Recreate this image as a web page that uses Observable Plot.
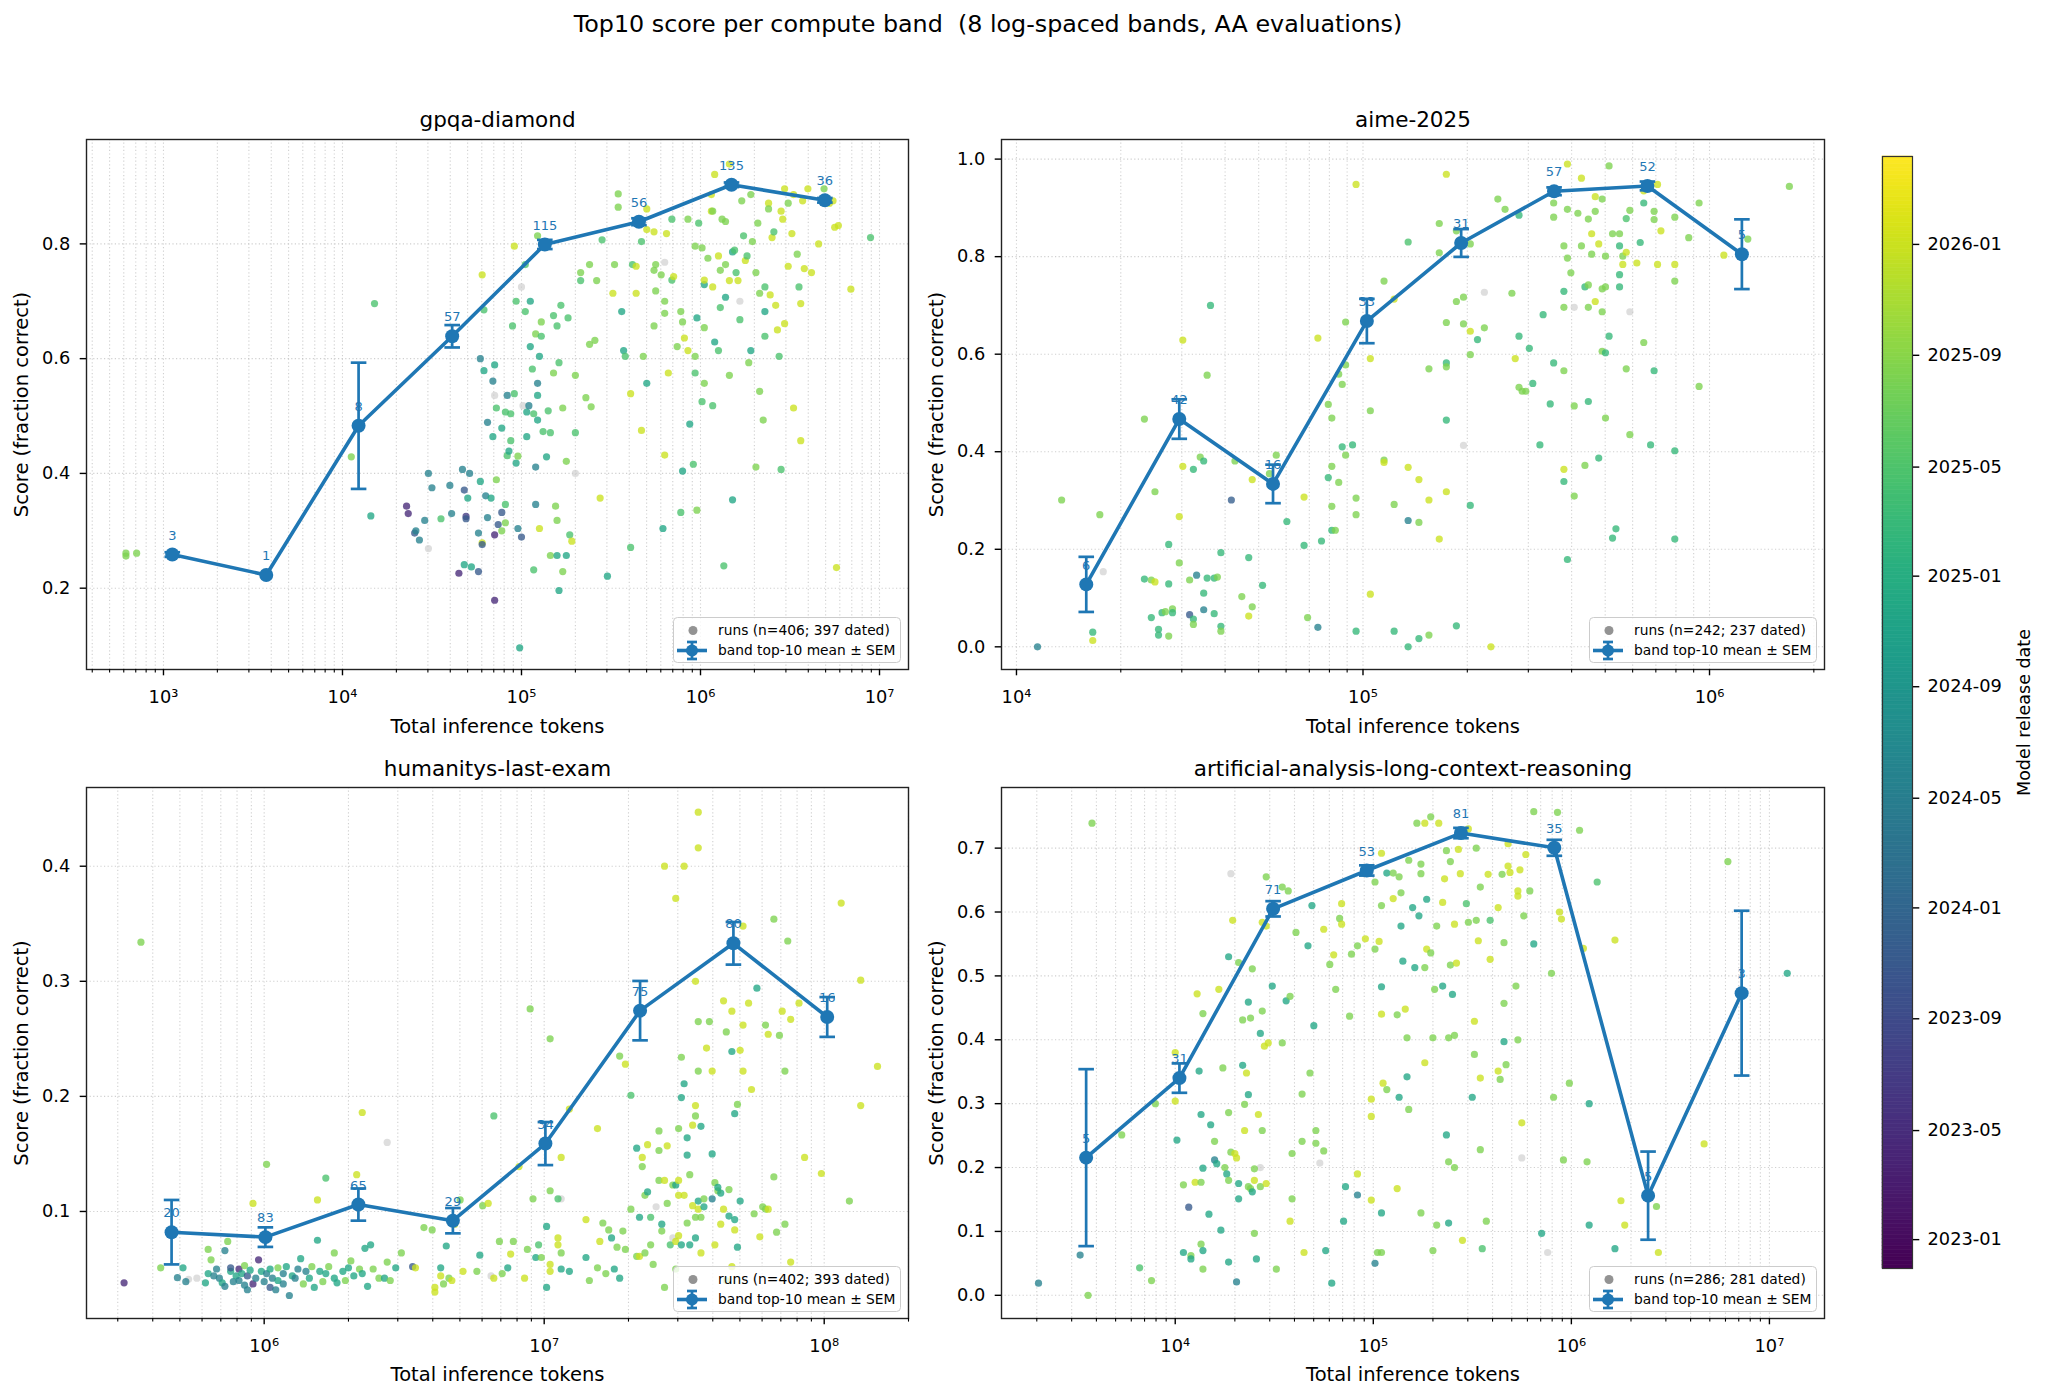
<!DOCTYPE html>
<html><head><meta charset="utf-8">
<script src="https://cdn.jsdelivr.net/npm/d3@7"></script>
<script src="https://cdn.jsdelivr.net/npm/@observablehq/plot@0.6"></script>
<style>
body{margin:0;background:#fff;}
#fig{position:relative;width:2048px;height:1395px;background:#fff;font-family:"DejaVu Sans",sans-serif;overflow:hidden;color:#000}
</style></head><body><div id="fig"></div>
<script>
// ---------- DATA ----------
// runs: [total inference tokens, score, model release date (decimal year) or null if undated]
const gpqaRuns = [
[617,0.261,2025.6],[617,0.256,2025.6],[708,0.261,2025.6],[1.12e4,0.429,2025.6],[1.51e4,0.696,2025.3],[1.44e4,0.326,2024.9],
[2.28e4,0.343,2023.3],[2.33e4,0.33,2023.3],[2.53e4,0.296,2023.85],[2.57e4,0.30,2024.4],[2.69e4,0.284,2024.4],[2.88e4,0.318,2024.4],
[3.02e4,0.40,2024.4],[3.02e4,0.269,null],[3.16e4,0.375,2024.4],[3.55e4,0.321,2025.3],[3.98e4,0.379,2024.4],[4.07e4,0.33,2024.4],
[4.47e4,0.226,2023.3],[4.68e4,0.407,2024.4],[4.79e4,0.371,2023.85],[4.90e4,0.325,2023.5],[4.90e4,0.321,2023.85],[4.79e4,0.241,2024.9],
[5.13e4,0.40,2024.4],[5.01e4,0.357,2024.9],[5.25e4,0.237,2024.9],[5.75e4,0.296,2024.4],[5.75e4,0.229,2023.85],[5.89e4,0.60,2024.4],
[5.89e4,0.386,2024.9],[6.03e4,0.279,2026.0],[6.03e4,0.276,2023.85],[6.03e4,0.746,2026.0],[6.17e4,0.685,2025.3],[6.31e4,0.361,2024.4],
[6.46e4,0.323,2024.4],[6.17e4,0.579,2024.9],[6.46e4,0.489,2024.4],[6.76e4,0.357,2024.9],[6.92e4,0.561,2024.4],[6.92e4,0.464,2024.9],
[7.08e4,0.589,2024.9],[7.08e4,0.293,2023.3],[7.08e4,0.179,2023.3],[7.08e4,0.536,null],[7.24e4,0.389,2025.6],[7.24e4,0.514,2025.3],
[7.41e4,0.311,2023.85],[7.76e4,0.30,2025.6],[7.76e4,0.332,2023.85],[7.76e4,0.479,2024.9],[8.13e4,0.507,2025.3],[8.13e4,0.346,2025.3],
[8.13e4,0.314,2025.6],[8.32e4,0.431,2025.3],[8.32e4,0.536,2024.4],[8.51e4,0.439,2024.9],[8.71e4,0.504,2025.3],[8.71e4,0.457,2025.3],
[8.91e4,0.657,2025.3],[9.12e4,0.539,2025.3],[9.12e4,0.796,2026.0],[9.33e4,0.70,2025.3],[9.33e4,0.418,2024.9],[9.55e4,0.430,2025.6],
[9.55e4,0.304,2024.4],[9.77e4,0.096,2024.9],[1.0e5,0.289,2023.85],[1.0e5,0.725,null],[1.02e5,0.518,null],[1.05e5,0.764,2025.3],
[1.05e5,0.682,2025.3],[1.07e5,0.507,2024.9],[1.07e5,0.464,2024.9],[1.10e5,0.518,2024.4],[1.12e5,0.70,2024.9],[1.12e5,0.621,2024.9],
[1.15e5,0.582,2025.3],[1.17e5,0.504,2025.3],[1.17e5,0.232,2025.3],[1.20e5,0.411,2024.4],[1.20e5,0.643,2025.6],[1.20e5,0.346,2024.4],
[1.23e5,0.557,2024.4],[1.23e5,0.536,2024.9],[1.23e5,0.493,2024.9],[1.26e5,0.604,2024.9],[1.26e5,0.304,2026.0],[1.29e5,0.639,2025.3],
[1.29e5,0.664,2025.6],[1.32e5,0.473,2025.3],[1.23e5,0.814,2025.6],[1.38e5,0.429,2024.9],[1.41e5,0.509,2025.3],[1.45e5,0.471,2025.3],
[1.45e5,0.257,2025.6],[1.51e5,0.575,2025.6],[1.51e5,0.675,2025.3],[1.55e5,0.343,2025.6],[1.58e5,0.657,2025.3],[1.58e5,0.318,2025.6],
[1.58e5,0.257,2024.9],[1.62e5,0.196,2024.9],[1.62e5,0.593,2025.3],[1.66e5,0.693,2025.3],[1.70e5,0.514,2025.6],[1.70e5,0.229,2025.6],
[1.78e5,0.421,2025.6],[1.78e5,0.257,2024.9],[1.82e5,0.671,2025.3],[1.86e5,0.293,2025.3],[1.91e5,0.282,2026.0],[2.0e5,0.471,2025.3],
[2.0e5,0.571,2025.6],[2.0e5,0.40,null],[2.14e5,0.75,2025.6],[2.14e5,0.736,2025.3],[2.29e5,0.532,2025.6],[2.45e5,0.516,2025.6],
[2.40e5,0.625,2025.6],[2.57e5,0.632,2025.6],[2.40e5,0.764,2025.6],[2.63e5,0.736,2025.6],[2.75e5,0.357,2026.0],[2.82e5,0.807,2025.3],
[3.02e5,0.221,2024.9],[3.24e5,0.714,2026.0],[3.31e5,0.764,2025.6],[3.47e5,0.887,2025.6],[3.47e5,0.864,2025.6],[3.63e5,0.682,2024.9],
[3.72e5,0.614,2024.9],[3.80e5,0.604,2025.3],[4.07e5,0.539,2026.0],[4.07e5,0.271,2025.3],[4.17e5,0.764,2025.3],[4.37e5,0.761,2026.0],
[4.37e5,0.714,2026.0],[4.68e5,0.475,2026.0],[4.68e5,0.804,2025.3],[4.79e5,0.604,2025.6],[5.01e5,0.557,2024.9],[5.01e5,0.861,2026.0],
[5.01e5,0.825,2026.0],[5.50e5,0.821,2026.0],[5.50e5,0.754,2025.6],[5.50e5,0.657,2025.6],[5.62e5,0.764,2025.6],[5.62e5,0.718,2025.6],
[6.03e5,0.746,2025.6],[6.17e5,0.304,2024.9],[6.31e5,0.768,null],[6.31e5,0.679,2025.6],[6.31e5,0.70,2025.6],[6.46e5,0.818,2026.0],
[6.31e5,0.432,2026.0],[6.61e5,0.575,2026.0],[6.92e5,0.843,2025.3],[6.92e5,0.737,2025.3],[7.08e5,0.743,2026.0],[7.41e5,0.621,2025.6],
[7.76e5,0.682,2025.6],[7.76e5,0.332,2025.3],[7.94e5,0.664,2025.6],[7.94e5,0.404,2024.9],[8.13e5,0.636,2026.0],[8.51e5,0.843,2025.6],
[8.51e5,0.614,2026.0],[8.71e5,0.486,2024.9],[9.12e5,0.416,2025.3],[9.33e5,0.796,2025.6],[9.33e5,0.604,2025.6],[9.33e5,0.575,2025.3],
[9.55e5,0.671,2024.9],[9.55e5,0.336,2025.6],[9.77e5,0.836,2025.3],[1.02e6,0.793,2025.6],[1.02e6,0.525,2025.3],[1.05e6,0.654,2025.6],
[1.05e6,0.557,2025.6],[1.05e6,0.729,2024.9],[1.05e6,0.737,2026.0],[1.10e6,0.775,2025.6],[1.15e6,0.886,2026.0],[1.15e6,0.857,2026.0],
[1.17e6,0.725,2026.0],[1.17e6,0.518,2025.3],[1.17e6,0.857,2025.6],[1.20e6,0.629,2024.9],[1.20e6,0.921,2026.0],[1.26e6,0.779,2026.0],
[1.26e6,0.614,2025.3],[1.29e6,0.754,2025.6],[1.29e6,0.689,2025.3],[1.32e6,0.843,2025.6],[1.35e6,0.239,2025.3],[1.38e6,0.707,2024.9],
[1.38e6,0.839,2025.6],[1.38e6,0.764,2025.6],[1.45e6,0.736,2026.0],[1.45e6,0.571,2025.6],[1.45e6,0.939,2026.0],[1.51e6,0.786,2024.9],
[1.51e6,0.354,2024.9],[1.55e6,0.789,2025.3],[1.58e6,0.75,2025.3],[1.62e6,0.736,2026.0],[1.66e6,0.668,2025.3],[1.66e6,0.70,null],
[1.70e6,0.875,2025.6],[1.74e6,0.814,2025.3],[1.78e6,0.771,2026.0],[1.82e6,0.779,2025.3],[1.86e6,0.593,2025.6],[1.91e6,0.614,2024.9],
[1.91e6,0.886,2025.6],[1.95e6,0.804,2025.6],[2.04e6,0.75,2025.6],[2.04e6,0.411,2025.6],[2.09e6,0.836,2025.6],[2.14e6,0.543,2025.6],
[2.14e6,0.714,2025.6],[2.24e6,0.493,2025.6],[2.29e6,0.682,2024.9],[2.29e6,0.725,2025.3],[2.29e6,0.639,2025.3],[2.40e6,0.871,2026.0],
[2.40e6,0.861,2025.6],[2.45e6,0.711,2026.0],[2.51e6,0.811,2026.0],[2.57e6,0.821,2025.3],[2.63e6,0.693,2026.0],[2.69e6,0.65,2026.0],
[2.75e6,0.604,2025.3],[2.82e6,0.857,2026.0],[2.82e6,0.407,2025.3],[2.88e6,0.843,2026.0],[2.95e6,0.896,2026.0],[2.95e6,0.661,2026.0],
[3.09e6,0.871,2025.6],[3.09e6,0.761,2026.0],[3.24e6,0.818,2026.0],[3.31e6,0.886,2026.0],[3.31e6,0.514,2026.0],[3.47e6,0.782,2025.6],
[3.55e6,0.725,2025.3],[3.63e6,0.696,2026.0],[3.72e6,0.875,2026.0],[3.63e6,0.457,2026.0],[3.80e6,0.757,2026.0],[3.98e6,0.896,2026.0],
[4.17e6,0.75,2026.0],[4.57e6,0.80,2026.0],[4.90e6,0.896,2025.6],[5.25e6,0.871,2026.0],[5.50e6,0.875,2026.0],[5.62e6,0.829,2026.0],
[5.75e6,0.236,2026.0],[5.89e6,0.832,2026.0],[6.92e6,0.721,2026.0],[8.91e6,0.811,2025.3]
];
const aimeRuns = [
[1.15e4,0.0,2024.4],[1.35e4,0.301,2025.6],[1.66e4,0.030,2025.15],[1.66e4,0.013,2026.0],[1.74e4,0.271,2025.6],[1.78e4,0.154,null],
[2.34e4,0.467,2025.6],[2.34e4,0.139,2025.15],[2.45e4,0.137,2025.6],[2.45e4,0.060,2025.15],[2.51e4,0.318,2025.6],[2.51e4,0.133,2026.0],
[2.57e4,0.036,2025.15],[2.57e4,0.024,2025.15],[2.63e4,0.070,2025.15],[2.69e4,0.072,2025.6],[2.75e4,0.21,2025.15],[2.75e4,0.129,2025.15],
[2.75e4,0.022,2025.6],[2.82e4,0.078,2025.6],[2.82e4,0.07,2025.15],[2.95e4,0.172,2025.6],[2.95e4,0.267,2026.0],[3.02e4,0.629,2026.0],
[3.02e4,0.370,2026.0],[3.16e4,0.137,2025.6],[3.16e4,0.066,2023.85],[3.24e4,0.057,2025.15],[3.24e4,0.046,2025.6],[3.24e4,0.364,2025.15],
[3.31e4,0.147,2024.4],[3.39e4,0.389,2025.6],[3.47e4,0.381,2025.15],[3.47e4,0.110,2025.15],[3.47e4,0.076,2024.4],[3.55e4,0.557,2025.6],
[3.55e4,0.141,2025.15],[3.63e4,0.70,2025.15],[3.72e4,0.141,2025.15],[3.80e4,0.143,2025.6],[3.72e4,0.068,2025.15],[3.89e4,0.193,2025.15],
[3.89e4,0.042,2025.15],[3.89e4,0.032,2025.6],[4.17e4,0.301,2023.9],[4.27e4,0.381,2025.6],[4.47e4,0.103,2025.6],[4.68e4,0.183,2025.15],
[4.68e4,0.063,2026.0],[4.79e4,0.343,2026.0],[4.79e4,0.082,2025.6],[5.13e4,0.126,2025.15],[5.37e4,0.355,2025.6],[5.62e4,0.393,2025.6],
[6.03e4,0.257,2025.15],[6.76e4,0.208,2025.15],[6.76e4,0.307,2026.0],[6.92e4,0.06,2025.6],[7.41e4,0.633,2026.0],[7.59e4,0.217,2025.15],
[7.41e4,0.040,2024.4],[7.94e4,0.497,2025.6],[7.94e4,0.347,2025.15],[8.13e4,0.469,2025.6],[8.13e4,0.370,2025.6],[8.13e4,0.288,2025.6],
[8.13e4,0.239,2025.15],[8.32e4,0.239,2025.6],[8.51e4,0.559,2025.6],[8.51e4,0.337,2025.6],[8.71e4,0.538,2025.6],[8.71e4,0.41,2025.15],
[8.91e4,0.666,2025.6],[8.91e4,0.578,2025.6],[8.91e4,0.393,2025.6],[9.33e4,0.414,2025.15],[9.55e4,0.948,2026.0],[9.55e4,0.305,2025.6],
[9.55e4,0.271,2025.6],[9.55e4,0.032,2025.15],[1.05e5,0.591,2026.0],[1.05e5,0.484,2025.6],[1.05e5,0.108,2026.0],[1.15e5,0.750,2025.6],
[1.15e5,0.383,2025.6],[1.15e5,0.378,2026.0],[1.23e5,0.713,2026.0],[1.23e5,0.292,2025.6],[1.23e5,0.032,2025.15],[1.35e5,0.830,2025.3],
[1.35e5,0.368,2026.0],[1.35e5,0.259,2024.4],[1.35e5,0.0,2025.15],[1.45e5,0.343,2026.0],[1.45e5,0.255,2025.6],[1.45e5,0.017,2025.15],
[1.55e5,0.301,2026.0],[1.55e5,0.570,2025.6],[1.55e5,0.024,2025.6],[1.66e5,0.868,2025.6],[1.66e5,0.808,2025.6],[1.66e5,0.221,2026.0],
[1.74e5,0.969,2026.0],[1.74e5,0.665,2025.6],[1.74e5,0.582,2025.15],[1.74e5,0.574,2025.6],[1.74e5,0.465,2025.15],[1.74e5,0.318,2026.0],
[1.86e5,0.853,2025.6],[1.86e5,0.708,2025.6],[1.86e5,0.043,2025.15],[1.95e5,0.717,2025.6],[1.95e5,0.662,2025.6],[1.95e5,0.413,null],
[2.04e5,0.826,2025.6],[2.04e5,0.647,2026.0],[2.04e5,0.599,2025.6],[2.04e5,0.29,2025.15],[2.14e5,0.630,2025.15],[2.24e5,0.727,null],
[2.24e5,0.654,2025.6],[2.34e5,0.0,2026.0],[2.45e5,0.918,2025.6],[2.57e5,0.897,2025.6],[2.69e5,0.725,2025.6],[2.75e5,0.591,2026.0],
[2.82e5,0.637,2025.15],[2.82e5,0.532,2025.6],[2.82e5,0.885,2025.15],[2.88e5,0.524,2025.6],[2.95e5,0.524,2025.6],[3.02e5,0.612,2025.15],
[3.09e5,0.540,2025.15],[3.24e5,0.414,2025.15],[3.31e5,0.681,2025.15],[3.47e5,0.498,2025.15],[3.55e5,0.582,2025.15],[3.55e5,0.910,2025.6],
[3.55e5,0.881,2025.6],[3.80e5,0.364,2026.0],[3.80e5,0.339,2025.15],[3.80e5,0.566,2025.6],[3.80e5,0.822,2025.6],[3.80e5,0.729,2025.15],
[3.80e5,0.696,2025.6],[3.89e5,0.179,2025.15],[3.89e5,0.797,2025.6],[3.89e5,0.990,2026.0],[3.89e5,0.897,2025.6],[3.98e5,0.767,2025.6],
[4.07e5,0.309,2025.6],[4.07e5,0.494,2025.6],[4.07e5,0.696,null],[4.17e5,0.889,2025.6],[4.27e5,0.961,2026.0],[4.27e5,0.822,2025.6],
[4.37e5,0.372,2025.6],[4.37e5,0.738,2025.15],[4.47e5,0.742,2025.6],[4.47e5,0.696,2025.6],[4.47e5,0.503,2025.15],[4.47e5,0.877,2025.6],
[4.57e5,0.847,2026.0],[4.57e5,0.805,2025.6],[4.68e5,0.923,2026.0],[4.68e5,0.708,2026.0],[4.68e5,0.893,2025.6],[4.79e5,0.826,2026.0],
[4.79e5,0.387,2025.15],[4.90e5,0.918,2025.6],[4.90e5,0.606,2025.6],[4.90e5,0.687,2025.6],[4.90e5,0.734,2025.6],[5.01e5,0.603,2025.15],
[5.01e5,0.738,2025.6],[5.01e5,0.801,2025.6],[5.01e5,0.469,2025.6],[5.13e5,0.986,2025.6],[5.13e5,0.637,2025.15],[5.25e5,0.223,2025.15],
[5.25e5,0.847,2025.6],[5.37e5,0.242,2025.15],[5.50e5,0.822,2025.15],[5.50e5,0.847,2025.6],[5.50e5,0.763,2025.15],[5.50e5,0.738,2025.15],
[5.62e5,0.784,2026.0],[5.62e5,0.801,2025.6],[5.75e5,0.809,2026.0],[5.75e5,0.878,2025.3],[5.75e5,0.570,2025.6],[5.89e5,0.687,null],
[5.89e5,0.895,2025.6],[5.89e5,0.435,2025.6],[6.17e5,0.787,2026.0],[6.31e5,0.829,2025.15],[6.46e5,0.624,2025.6],[6.46e5,0.910,2025.15],
[6.46e5,0.935,2026.0],[6.76e5,0.414,2025.15],[6.92e5,0.876,2025.6],[6.92e5,0.566,2025.15],[6.92e5,0.893,2025.6],[7.08e5,0.784,2026.0],
[7.08e5,0.948,2026.0],[7.24e5,0.853,2026.0],[7.94e5,0.881,2025.6],[7.94e5,0.750,2025.6],[7.94e5,0.784,2026.0],[7.94e5,0.402,2025.15],
[7.94e5,0.221,2025.15],[8.71e5,0.839,2025.6],[9.33e5,0.910,2025.6],[9.33e5,0.534,2025.6],[1.10e6,0.803,2026.0],[1.29e6,0.836,2025.6],
[1.70e6,0.944,2025.6]
];
const hleRuns = [
[3.16e5,0.038,2023.3],[3.63e5,0.334,2025.6],[4.27e5,0.051,2025.6],[4.90e5,0.0425,2024.4],[5.13e5,0.051,2024.9],[5.25e5,0.039,2024.4],
[5.37e5,0.041,null],[5.75e5,0.042,null],[6.17e5,0.038,2024.9],[6.31e5,0.046,2024.9],[6.31e5,0.067,2025.6],[6.46e5,0.058,2025.6],
[6.61e5,0.044,2024.4],[6.76e5,0.05,2024.4],[6.92e5,0.042,2024.4],[7.08e5,0.038,2024.9],[7.24e5,0.035,2024.4],[7.24e5,0.066,2024.4],
[7.41e5,0.074,2025.6],[7.59e5,0.048,2024.9],[7.59e5,0.051,2023.85],[7.76e5,0.039,2024.4],[7.94e5,0.044,2024.9],[8.13e5,0.05,2023.3],
[8.13e5,0.040,2024.4],[8.32e5,0.046,2024.9],[8.51e5,0.036,2024.4],[8.51e5,0.053,2025.6],[8.71e5,0.032,2024.4],[8.71e5,0.044,2023.85],
[8.91e5,0.049,2024.9],[9.12e5,0.107,2026.0],[9.12e5,0.037,2023.3],[9.33e5,0.042,2024.4],[9.55e5,0.058,2023.3],[9.77e5,0.048,2024.9],
[1.0e6,0.039,2024.4],[1.02e6,0.141,2025.6],[1.02e6,0.046,2024.4],[1.05e6,0.034,2023.85],[1.05e6,0.05,2024.9],[1.07e6,0.042,2024.4],
[1.10e6,0.032,2024.4],[1.12e6,0.051,2025.6],[1.12e6,0.04,2024.9],[1.17e6,0.046,2024.4],[1.17e6,0.037,2024.4],[1.20e6,0.052,2024.9],
[1.23e6,0.027,2024.4],[1.26e6,0.044,2024.9],[1.29e6,0.042,2024.4],[1.32e6,0.050,2024.4],[1.35e6,0.059,2024.9],[1.38e6,0.037,2025.6],
[1.41e6,0.048,2024.4],[1.45e6,0.042,2024.9],[1.48e6,0.052,2025.6],[1.51e6,0.034,2024.9],[1.55e6,0.075,2024.9],[1.55e6,0.11,2026.0],
[1.58e6,0.048,2024.9],[1.62e6,0.039,2025.6],[1.66e6,0.129,2025.3],[1.66e6,0.046,2024.9],[1.70e6,0.052,2025.6],[1.78e6,0.042,2024.9],
[1.78e6,0.064,2025.6],[1.82e6,0.038,2024.9],[1.91e6,0.048,2024.9],[1.95e6,0.04,2025.6],[2.0e6,0.051,2024.9],[2.04e6,0.057,2025.6],
[2.09e6,0.044,2024.9],[2.14e6,0.132,2026.0],[2.19e6,0.050,2025.6],[2.24e6,0.186,2026.0],[2.24e6,0.046,2024.9],[2.29e6,0.068,2024.9],
[2.34e6,0.035,2024.9],[2.40e6,0.071,2024.9],[2.45e6,0.050,2025.6],[2.57e6,0.042,2025.6],[2.69e6,0.042,2024.9],[2.75e6,0.056,2025.6],
[2.75e6,0.16,null],[2.82e6,0.040,2025.6],[2.95e6,0.051,2024.9],[3.09e6,0.064,2025.6],[3.39e6,0.052,2023.85],[3.47e6,0.051,2026.0],
[3.72e6,0.086,2025.6],[3.98e6,0.084,2025.6],[4.07e6,0.034,2026.0],[4.07e6,0.030,2026.0],[4.27e6,0.044,2026.0],[4.27e6,0.051,2024.9],
[4.37e6,0.037,2025.6],[4.47e6,0.070,2024.9],[4.57e6,0.042,2025.6],[4.68e6,0.040,2026.0],[4.79e6,0.089,2026.0],[5.01e6,0.110,2025.6],
[5.13e6,0.048,2026.0],[5.75e6,0.048,2025.6],[5.89e6,0.062,2024.9],[6.03e6,0.105,2025.6],[6.31e6,0.107,2026.0],[6.46e6,0.044,null],
[6.61e6,0.183,2025.3],[6.61e6,0.042,2026.0],[6.92e6,0.074,2025.6],[7.08e6,0.046,2025.6],[7.41e6,0.051,2024.9],[7.59e6,0.063,2026.0],
[7.76e6,0.074,2025.6],[8.13e6,0.139,2026.0],[8.51e6,0.042,2026.0],[8.71e6,0.067,2025.6],[8.91e6,0.276,2025.6],[9.12e6,0.111,2025.6],
[9.33e6,0.060,2024.9],[9.55e6,0.071,2025.3],[9.77e6,0.060,2025.6],[1.02e7,0.087,2024.9],[1.02e7,0.034,2024.9],[1.05e7,0.054,2026.0],
[1.05e7,0.048,2026.0],[1.05e7,0.118,2025.6],[1.05e7,0.250,2025.6],[1.12e7,0.111,2025.3],[1.12e7,0.071,2026.0],[1.12e7,0.077,2026.0],
[1.15e7,0.111,null],[1.15e7,0.147,2026.0],[1.15e7,0.050,2024.9],[1.15e7,0.064,2025.6],[1.23e7,0.189,2026.0],[1.23e7,0.048,2024.9],
[1.41e7,0.093,2026.0],[1.41e7,0.060,2024.9],[1.45e7,0.040,2025.6],[1.55e7,0.051,2025.6],[1.55e7,0.172,2026.0],[1.58e7,0.074,2026.0],
[1.62e7,0.090,2025.6],[1.66e7,0.046,2025.6],[1.70e7,0.084,2025.6],[1.74e7,0.077,2024.9],[1.78e7,0.050,2024.9],[1.82e7,0.069,2025.6],
[1.86e7,0.235,2025.6],[1.86e7,0.042,2024.9],[1.91e7,0.083,2025.6],[1.95e7,0.067,2025.6],[1.95e7,0.228,2026.0],[2.04e7,0.201,2025.3],
[2.04e7,0.102,2025.6],[2.14e7,0.155,2024.9],[2.14e7,0.061,2025.6],[2.19e7,0.095,2024.9],[2.19e7,0.061,2026.0],[2.24e7,0.139,2025.6],
[2.24e7,0.147,2026.0],[2.29e7,0.114,2025.6],[2.29e7,0.064,2025.6],[2.34e7,0.158,2026.0],[2.34e7,0.117,2024.9],[2.40e7,0.095,2025.3],
[2.40e7,0.071,2025.6],[2.45e7,0.054,2025.6],[2.51e7,0.104,null],[2.57e7,0.127,2025.6],[2.57e7,0.153,2025.6],[2.57e7,0.170,2025.6],
[2.63e7,0.083,2025.6],[2.63e7,0.089,2024.9],[2.69e7,0.034,2025.6],[2.69e7,0.127,2026.0],[2.75e7,0.107,2025.6],[2.75e7,0.157,2026.0],
[2.82e7,0.071,2025.3],[2.88e7,0.077,null],[2.88e7,0.123,2025.6],[2.95e7,0.123,2024.9],[2.95e7,0.050,2025.6],[2.95e7,0.074,2026.0],
[3.02e7,0.127,2026.0],[3.02e7,0.114,2026.0],[3.02e7,0.079,2026.0],[3.02e7,0.172,2025.6],[3.09e7,0.234,2025.6],[3.09e7,0.199,2024.9],
[3.09e7,0.071,2024.9],[3.16e7,0.114,2026.0],[3.16e7,0.40,2026.0],[2.95e7,0.372,2026.0],[2.69e7,0.40,2026.0],[3.16e7,0.211,2024.9],
[3.24e7,0.090,2025.6],[3.24e7,0.164,2024.9],[3.24e7,0.149,2024.9],[3.31e7,0.132,2025.6],[3.31e7,0.071,2024.9],[3.39e7,0.175,2026.0],
[3.39e7,0.105,2026.0],[3.47e7,0.192,2026.0],[3.47e7,0.095,2025.6],[3.47e7,0.30,2026.0],[3.47e7,0.183,2025.6],[3.47e7,0.077,2024.9],
[3.55e7,0.102,2026.0],[3.55e7,0.109,2024.9],[3.55e7,0.265,2025.6],[3.55e7,0.416,2026.0],[3.55e7,0.447,2026.0],[3.55e7,0.222,2025.6],
[3.63e7,0.174,2024.9],[3.63e7,0.064,2026.0],[3.63e7,0.095,2025.6],[3.72e7,0.111,2025.6],[3.72e7,0.104,2024.9],[3.80e7,0.242,2026.0],
[3.89e7,0.265,2025.6],[3.98e7,0.111,2024.4],[3.98e7,0.222,2026.0],[3.98e7,0.150,2024.9],[4.07e7,0.125,2025.6],[4.07e7,0.071,2026.0],
[4.17e7,0.118,2025.6],[4.17e7,0.121,2024.9],[4.27e7,0.116,2024.9],[4.27e7,0.089,2026.0],[4.37e7,0.102,2026.0],[4.37e7,0.283,2026.0],
[4.47e7,0.040,2025.6],[4.47e7,0.256,2025.6],[4.57e7,0.096,2024.9],[4.57e7,0.119,2025.6],[4.68e7,0.274,2026.0],[4.68e7,0.052,2026.0],
[4.68e7,0.239,2024.9],[4.79e7,0.084,2026.0],[4.79e7,0.093,2024.9],[4.79e7,0.185,2024.9],[4.90e7,0.069,2024.9],[4.90e7,0.193,2025.6],
[5.01e7,0.240,2026.0],[5.01e7,0.109,2024.9],[5.13e7,0.348,2026.0],[5.13e7,0.262,2026.0],[5.13e7,0.222,2026.0],[5.37e7,0.281,2026.0],
[5.50e7,0.206,2026.0],[5.62e7,0.098,2025.6],[5.75e7,0.294,2024.9],[5.89e7,0.078,2026.0],[6.03e7,0.104,2025.6],[6.17e7,0.102,2025.6],
[6.17e7,0.262,2025.6],[6.31e7,0.254,2026.0],[6.31e7,0.102,2026.0],[6.61e7,0.354,2025.6],[6.61e7,0.130,2025.6],[6.76e7,0.082,2025.6],
[6.92e7,0.253,2025.6],[7.08e7,0.274,2026.0],[7.24e7,0.089,2025.6],[7.24e7,0.222,2025.6],[7.41e7,0.335,2025.6],[7.59e7,0.267,2026.0],
[7.59e7,0.056,2026.0],[8.13e7,0.281,2026.0],[8.51e7,0.147,2026.0],[9.77e7,0.133,2026.0],[1.15e8,0.368,2026.0],[1.23e8,0.109,2025.6],
[1.35e8,0.301,2026.0],[1.35e8,0.192,2026.0],[1.55e8,0.226,2026.0]
];
const lcrRuns = [
[2.04e3,0.019,2024.4],[3.31e3,0.063,2024.4],[3.63e3,0.0,2025.6],[3.80e3,0.739,2025.6],[5.37e3,0.251,2025.6],[6.61e3,0.043,2025.3],
[7.59e3,0.023,2025.6],[7.94e3,0.30,2025.6],[1.0e4,0.304,2026.0],[1.0e4,0.38,2026.0],[1.02e4,0.243,2024.9],[1.10e4,0.173,2025.6],
[1.10e4,0.067,2024.9],[1.17e4,0.138,2023.85],[1.20e4,0.062,2025.6],[1.20e4,0.057,2024.9],[1.26e4,0.177,2026.0],[1.29e4,0.472,2026.0],
[1.32e4,0.351,2024.9],[1.35e4,0.177,2025.6],[1.35e4,0.283,2024.9],[1.35e4,0.08,2025.6],[1.38e4,0.07,2024.9],[1.38e4,0.441,2025.6],
[1.38e4,0.041,2025.6],[1.38e4,0.199,2024.9],[1.48e4,0.127,2024.9],[1.51e4,0.267,2024.9],[1.58e4,0.241,2025.6],[1.58e4,0.212,2024.4],
[1.62e4,0.206,2024.9],[1.66e4,0.479,2026.0],[1.70e4,0.102,2024.9],[1.74e4,0.356,2025.6],[1.78e4,0.20,2025.6],[1.82e4,0.19,2024.9],
[1.86e4,0.53,2024.9],[1.86e4,0.286,2025.6],[1.86e4,0.052,2024.9],[1.86e4,0.18,2025.6],[1.91e4,0.224,2025.6],[1.95e4,0.587,2026.0],
[1.91e4,0.66,null],[2.0e4,0.222,2026.0],[2.04e4,0.215,2026.0],[2.04e4,0.021,2024.4],[2.09e4,0.151,2024.9],[2.09e4,0.175,2024.9],
[2.09e4,0.521,2025.6],[2.19e4,0.431,2025.6],[2.19e4,0.36,2024.9],[2.24e4,0.299,2025.6],[2.24e4,0.258,2026.0],[2.29e4,0.348,2026.0],
[2.34e4,0.314,2024.9],[2.34e4,0.459,2024.9],[2.34e4,0.17,2025.6],[2.40e4,0.434,2025.6],[2.40e4,0.167,2025.6],[2.45e4,0.162,2024.9],
[2.45e4,0.511,2025.6],[2.51e4,0.198,2025.6],[2.51e4,0.18,2026.0],[2.51e4,0.097,2025.6],[2.57e4,0.057,2024.9],[2.63e4,0.283,2026.0],
[2.69e4,0.17,2025.6],[2.69e4,0.41,2024.9],[2.69e4,0.20,null],[2.75e4,0.258,2025.6],[2.75e4,0.445,2025.6],[2.75e4,0.584,2026.0],
[2.82e4,0.39,2026.0],[2.88e4,0.175,2026.0],[2.88e4,0.655,2025.6],[2.88e4,0.578,2026.0],[2.95e4,0.395,2026.0],[3.09e4,0.484,2024.9],
[3.24e4,0.041,2025.6],[3.47e4,0.395,2025.6],[3.47e4,0.639,2025.6],[3.63e4,0.461,2024.9],[3.72e4,0.633,2025.6],[3.80e4,0.468,2025.6],
[3.89e4,0.222,2025.6],[3.89e4,0.151,2025.6],[3.80e4,0.116,2026.0],[4.07e4,0.568,2025.6],[4.37e4,0.315,2025.6],[4.37e4,0.241,2025.6],
[4.47e4,0.067,2026.0],[4.68e4,0.547,2024.9],[4.79e4,0.348,2025.6],[4.90e4,0.61,2024.9],[5.01e4,0.422,2024.9],[5.13e4,0.258,2025.6],
[5.13e4,0.238,2025.6],[5.37e4,0.207,null],[5.62e4,0.226,2025.6],[5.62e4,0.573,2026.0],[5.75e4,0.07,2024.9],[6.03e4,0.518,2025.6],
[6.31e4,0.533,2026.0],[6.17e4,0.019,2024.9],[6.46e4,0.479,2025.6],[6.76e4,0.59,2025.6],[6.92e4,0.581,2026.0],[6.92e4,0.613,2026.0],
[7.08e4,0.116,2024.9],[7.24e4,0.17,2024.9],[7.59e4,0.437,2025.6],[7.76e4,0.534,2025.6],[8.32e4,0.157,2024.4],[8.32e4,0.547,2025.6],
[8.32e4,0.19,2026.0],[9.12e4,0.558,2026.0],[9.77e4,0.149,2026.0],[9.77e4,0.28,2026.0],[9.77e4,0.307,2026.0],[1.02e5,0.542,2025.6],
[1.02e5,0.05,2024.4],[1.02e5,0.647,2025.6],[1.05e5,0.067,2025.6],[1.07e5,0.554,2026.0],[1.10e5,0.067,2025.6],[1.10e5,0.483,2024.9],
[1.10e5,0.61,2025.6],[1.10e5,0.44,2026.0],[1.10e5,0.692,2026.0],[1.10e5,0.129,2024.9],[1.12e5,0.332,2026.0],[1.17e5,0.661,2024.9],
[1.17e5,0.322,2025.6],[1.26e5,0.661,2025.6],[1.26e5,0.621,2026.0],[1.32e5,0.439,2025.6],[1.32e5,0.167,2026.0],[1.35e5,0.655,2025.6],
[1.35e5,0.31,2024.9],[1.38e5,0.63,2025.6],[1.38e5,0.578,2024.9],[1.41e5,0.523,2024.9],[1.45e5,0.448,2026.0],[1.48e5,0.342,2024.9],
[1.48e5,0.403,2025.6],[1.51e5,0.681,2025.6],[1.51e5,0.291,2025.6],[1.58e5,0.607,2024.9],[1.62e5,0.513,2024.9],[1.66e5,0.739,2025.6],
[1.70e5,0.594,2024.9],[1.74e5,0.129,2025.6],[1.74e5,0.66,2025.6],[1.74e5,0.675,2025.6],[1.82e5,0.513,2025.6],[1.82e5,0.364,2026.0],
[1.82e5,0.739,2026.0],[1.86e5,0.62,2024.9],[1.86e5,0.542,2026.0],[1.95e5,0.536,2025.6],[1.95e5,0.749,2025.6],[2.0e5,0.07,2025.6],
[2.0e5,0.403,2025.6],[2.04e5,0.479,2025.6],[2.09e5,0.578,2025.6],[2.09e5,0.110,2025.6],[2.14e5,0.739,2026.0],[2.24e5,0.484,2024.9],
[2.24e5,0.615,2026.0],[2.29e5,0.652,2026.0],[2.34e5,0.696,2025.6],[2.34e5,0.251,2024.9],[2.40e5,0.209,2025.6],[2.40e5,0.403,2025.6],
[2.40e5,0.113,2024.9],[2.45e5,0.679,2025.6],[2.45e5,0.517,2025.6],[2.51e5,0.471,2024.9],[2.57e5,0.407,2025.6],[2.57e5,0.20,2025.6],
[2.57e5,0.581,2026.0],[2.63e5,0.52,2026.0],[2.69e5,0.698,2026.0],[2.75e5,0.66,2026.0],[2.82e5,0.086,2026.0],[2.95e5,0.613,2025.3],
[3.02e5,0.584,2025.6],[3.02e5,0.73,2026.0],[3.16e5,0.31,2024.9],[3.24e5,0.377,2025.6],[3.24e5,0.429,2026.0],[3.31e5,0.70,2025.6],
[3.31e5,0.587,2025.6],[3.39e5,0.555,2026.0],[3.47e5,0.639,2025.6],[3.47e5,0.34,2026.0],[3.47e5,0.228,2025.6],[3.55e5,0.073,2025.3],
[3.72e5,0.116,2025.6],[3.80e5,0.659,2026.0],[3.89e5,0.587,2025.3],[3.89e5,0.526,2026.0],[4.27e5,0.351,2026.0],[4.27e5,0.607,2026.0],
[4.37e5,0.338,2025.6],[4.47e5,0.659,2025.6],[4.57e5,0.552,2025.6],[4.57e5,0.457,2025.6],[4.57e5,0.397,2024.9],[4.68e5,0.361,2025.6],
[4.79e5,0.707,2026.0],[4.79e5,0.672,2026.0],[4.90e5,0.662,2026.0],[5.25e5,0.484,2025.6],[5.37e5,0.40,2025.6],[5.37e5,0.625,2026.0],
[5.37e5,0.633,2026.0],[5.50e5,0.666,2026.0],[5.62e5,0.215,null],[5.62e5,0.27,2026.0],[5.75e5,0.594,2025.6],[5.89e5,0.69,2026.0],
[6.17e5,0.633,2025.6],[6.46e5,0.757,2025.6],[6.46e5,0.55,2024.9],[7.08e5,0.097,2024.9],[7.59e5,0.067,null],[7.94e5,0.504,2025.6],
[8.13e5,0.31,2025.6],[8.51e5,0.756,2025.6],[8.71e5,0.60,2026.0],[8.91e5,0.589,2026.0],[9.12e5,0.212,2025.6],[9.77e5,0.332,2025.6],
[1.10e6,0.728,2025.6],[1.15e6,0.543,2026.0],[1.20e6,0.209,2025.6],[1.23e6,0.30,2024.9],[1.23e6,0.110,2024.9],[1.35e6,0.647,2025.3],
[1.66e6,0.556,2026.0],[1.66e6,0.073,2024.9],[1.78e6,0.148,2026.0],[1.86e6,0.110,2026.0],[2.69e6,0.139,2025.6],[2.75e6,0.067,2026.0],
[4.68e6,0.237,2026.0],[6.17e6,0.679,2025.6],[1.23e7,0.504,2024.9]
];
// band summaries: [band centre tokens, top-10 mean, SEM, runs in band]
const gpqaBand = [[1.12e3,0.2586,0.004,3],[3.75e3,0.223,0,1],[1.23e4,0.483,0.110,8],[4.1e4,0.639,0.0195,57],[1.35e5,0.799,0.008,115],[4.53e5,0.8386,0.006,56],[1.49e6,0.903,0.004,135],[4.95e6,0.876,0.004,36]];
const aimeBand = [[1.59e4,0.128,0.0565,6],[2.95e4,0.467,0.0405,42],[5.5e4,0.334,0.0395,16],[1.026e5,0.668,0.0455,33],[1.92e5,0.828,0.0285,31],[3.56e5,0.934,0.008,57],[6.62e5,0.945,0.009,52],[1.24e6,0.805,0.0715,5]];
const hleBand = [[4.67e5,0.082,0.028,20],[1.01e6,0.0777,0.0085,83],[2.17e6,0.106,0.014,65],[4.72e6,0.092,0.011,29],[1.01e7,0.159,0.0187,34],[2.2e7,0.2745,0.0258,75],[4.74e7,0.333,0.0185,80],[1.025e8,0.269,0.0173,16]];
const lcrBand = [[3.55e3,0.2155,0.1385,5],[1.05e4,0.340,0.023,31],[3.12e4,0.605,0.012,71],[9.27e4,0.665,0.008,53],[2.77e5,0.7236,0.0081,81],[8.2e5,0.7005,0.0125,35],[2.44e6,0.156,0.069,5],[7.24e6,0.473,0.129,3]];
const panelTitles = ["gpqa-diamond","aime-2025","humanitys-last-exam","artificial-analysis-long-context-reasoning"];
const runTotals = [406,242,402,286];
const runDated = [397,237,393,281];
const xTickValues = [[1e3,1e4,1e5,1e6,1e7],[1e4,1e5,1e6],[1e6,1e7,1e8],[1e4,1e5,1e6,1e7]];
const yTickValues = [[0.2,0.4,0.6,0.8],[0,0.2,0.4,0.6,0.8,1.0],[0.1,0.2,0.3,0.4],[0,0.1,0.2,0.3,0.4,0.5,0.6,0.7]];
const colorbarTicks = ["2023-01","2023-05","2023-09","2024-01","2024-05","2024-09","2025-01","2025-05","2025-09","2026-01"];

// ---------- LAYOUT ----------
const releaseDomain = [2022.913, 2026.265];
const layout = [
  {box:[0,95,930,670],   frame:[86,139,908,669],   xDomain:[371.5,1.452e7], yDomain:[0.0583,0.9819], titleDy:-19, labelDy:57},
  {box:[915,95,930,670], frame:[1001,139,1824,669],xDomain:[9053,2.147e6],  yDomain:[-0.0465,1.0402], titleDy:-19, labelDy:57},
  {box:[0,745,930,650],  frame:[86,787,908,1318],  xDomain:[2.32e5,2.0e8],  yDomain:[0.007,0.4684], titleDy:-18.5, labelDy:56},
  {box:[915,745,930,650],frame:[1001,787,1824,1318],xDomain:[1327,1.897e7], yDomain:[-0.0363,0.7949], titleDy:-18.5, labelDy:56}
];
const runsList = [gpqaRuns, aimeRuns, hleRuns, lcrRuns];
const bandList = [gpqaBand, aimeBand, hleBand, lcrBand];

const fig = document.getElementById("fig");
const blue = "#1f77b4";
const supDigits = "⁰¹²³⁴⁵⁶⁷⁸⁹";
const supFmt = v => "10" + String(Math.round(Math.log10(v))).split("").map(c => supDigits[+c]).join("");
function minorTicks([a, b]) {
  const out = [];
  for (let e = Math.floor(Math.log10(a)); e <= Math.ceil(Math.log10(b)); e++)
    for (let k = 2; k <= 9; k++) { const v = k * Math.pow(10, e); if (v >= a && v <= b) out.push(v); }
  return out;
}
const capSymbol = {draw(ctx) { ctx.moveTo(-7.8, 0); ctx.lineTo(7.8, 0); }};
const grid = {stroke: "#b0b0b0", strokeOpacity: 0.6, strokeWidth: 1.1, strokeDasharray: "1.2,2.4"};

function place(el, x, y) {
  el.style.position = "absolute"; el.style.left = x + "px"; el.style.top = y + "px"; el.style.maxWidth = "none";
  fig.appendChild(el);
}

// figure title
const st = document.createElement("div");
st.textContent = "Top10 score per compute band  (8 log-spaced bands, AA evaluations)";
st.style.cssText = "position:absolute;left:0;top:8px;width:1976px;text-align:center;font-size:23.8px;line-height:32px;white-space:pre;";
fig.appendChild(st);

layout.forEach((L, i) => {
  const [bx, by, bw, bh] = L.box; const [fx0, fy0, fx1, fy1] = L.frame;
  const runs = runsList[i].map(([t, s, r]) => ({t, s, r}));
  const band = bandList[i].map(([t, m, sem, n]) => ({t, m, sem, n}));
  const caps = band.filter(d => d.sem > 0).flatMap(d => [{t: d.t, v: d.m - d.sem}, {t: d.t, v: d.m + d.sem}]);
  const minor = minorTicks(L.xDomain);
  const svg = Plot.plot({
    width: bw, height: bh,
    marginLeft: fx0 - bx, marginRight: bx + bw - fx1, marginTop: fy0 - by, marginBottom: by + bh - fy1,
    style: {background: "transparent", fontFamily: "DejaVu Sans", fontSize: "17.8px", overflow: "visible", color: "#000"},
    x: {type: "log", domain: L.xDomain},
    y: {domain: L.yDomain},
    color: {type: "linear", scheme: "viridis", domain: releaseDomain},
    marks: [
      Plot.gridX(minor, grid),
      Plot.gridX(xTickValues[i], grid),
      Plot.gridY(yTickValues[i], grid),
      Plot.dot(runs.filter(d => d.r == null), {x: "t", y: "s", r: 3.6, fill: "#cccccc", fillOpacity: 0.65}),
      Plot.dot(runs.filter(d => d.r != null), {x: "t", y: "s", r: 3.6, fill: "r", fillOpacity: 0.78}),
      Plot.line(band, {x: "t", y: "m", stroke: blue, strokeWidth: 3.6}),
      Plot.ruleX(band.filter(d => d.sem > 0), {x: "t", y1: d => d.m - d.sem, y2: d => d.m + d.sem, stroke: blue, strokeWidth: 2.7}),
      Plot.dot(caps, {x: "t", y: "v", symbol: capSymbol, r: 4, fill: "none", stroke: blue, strokeWidth: 2.7}),
      Plot.dot(band, {x: "t", y: "m", r: 7, fill: blue}),
      Plot.text(band, {x: "t", y: "m", text: d => String(d.n), dy: -19, fill: blue, fontSize: 13}),
      Plot.frame({stroke: "#222", strokeWidth: 1.4}),
      Plot.axisX(minor, {tickSize: 3.6, strokeWidth: 1.1, tickFormat: () => "", label: null}),
      Plot.axisX(xTickValues[i], {tickSize: 6.3, strokeWidth: 1.4, tickPadding: 14.5, tickFormat: supFmt, fontSize: 17.8, label: null}),
      Plot.axisY(yTickValues[i], {tickSize: 6.3, strokeWidth: 1.4, tickPadding: 10, tickFormat: d3.format(".1f"), fontSize: 17.8, label: null}),
      Plot.text([panelTitles[i]], {frameAnchor: "top", text: d => d, dy: L.titleDy, fontSize: 21.5, textAnchor: "middle", lineAnchor: "middle"}),
      Plot.text(["Total inference tokens"], {frameAnchor: "bottom", text: d => d, dy: L.labelDy, fontSize: 19.5, textAnchor: "middle", lineAnchor: "middle"}),
      Plot.text(["Score (fraction correct)"], {frameAnchor: "left", text: d => d, dx: -65, rotate: -90, fontSize: 19.5, textAnchor: "middle", lineAnchor: "middle"})
    ]
  });
  place(svg, bx, by);

  // legend (lower right)
  const w = 228, h = 46, lx = fx1 - 7 - w, ly = fy1 - 6.5 - h;
  const lg = document.createElementNS("http://www.w3.org/2000/svg", "svg");
  lg.setAttribute("width", w); lg.setAttribute("height", h);
  lg.style.overflow = "visible"; lg.style.fontFamily = "DejaVu Sans";
  lg.innerHTML = `<rect x="0.5" y="0.5" width="${w-1}" height="${h-1}" rx="4" ry="4" fill="#fff" fill-opacity="0.8" stroke="#cccccc" stroke-width="1"/>
    <circle cx="20" cy="13.5" r="4.5" fill="#808080" fill-opacity="0.85"/>
    <text x="45" y="13.5" dy="0.35em" font-size="13.8">runs (n=${runTotals[i]}; ${runDated[i]} dated)</text>
    <line x1="4" x2="34" y1="33.5" y2="33.5" stroke="${blue}" stroke-width="3.6"/>
    <line x1="19" x2="19" y1="25" y2="42" stroke="${blue}" stroke-width="2.7"/>
    <line x1="14" x2="24" y1="25" y2="25" stroke="${blue}" stroke-width="2.7"/>
    <line x1="14" x2="24" y1="42" y2="42" stroke="${blue}" stroke-width="2.7"/>
    <circle cx="19" cy="33.5" r="6" fill="${blue}"/>
    <text x="45" y="33.5" dy="0.35em" font-size="13.8">band top-10 mean ± SEM</text>`;
  place(lg, lx, ly);
});

// ---------- COLORBAR ----------
function decYear(s) {
  const [y, m] = s.split("-").map(Number);
  const a = Date.UTC(y, 0, 1), b = Date.UTC(y + 1, 0, 1);
  return y + (Date.UTC(y, m - 1, 1) - a) / (b - a);
}
const cbVals = colorbarTicks.map(decYear);
const cbLabel = new Map(cbVals.map((v, i) => [v, colorbarTicks[i]]));
const nSlices = 300;
const slices = d3.range(nSlices).map(k => {
  const y1 = releaseDomain[0] + (releaseDomain[1] - releaseDomain[0]) * k / nSlices;
  const y2 = releaseDomain[0] + (releaseDomain[1] - releaseDomain[0]) * (k + 1) / nSlices;
  return {y1, y2, c: (y1 + y2) / 2};
});
const cb = Plot.plot({
  width: 208, height: 1200, marginLeft: 42, marginRight: 136, marginTop: 56, marginBottom: 32,
  style: {background: "transparent", fontFamily: "DejaVu Sans", fontSize: "17.8px", overflow: "visible", color: "#000"},
  x: {domain: [0, 1], axis: null},
  y: {domain: releaseDomain},
  color: {type: "linear", scheme: "viridis", domain: releaseDomain},
  marks: [
    Plot.rect(slices, {x1: 0, x2: 1, y1: "y1", y2: "y2", fill: "c", stroke: "c", strokeWidth: 0.6}),
    Plot.frame({stroke: "#333", strokeWidth: 1.2}),
    Plot.axisY(cbVals, {anchor: "right", tickSize: 6.3, strokeWidth: 1.4, tickPadding: 8.7, tickFormat: v => cbLabel.get(v), fontSize: 17.8, label: null}),
    Plot.text(["Model release date"], {frameAnchor: "right", text: d => d, dx: 112, rotate: -90, fontSize: 17.5, textAnchor: "middle", lineAnchor: "middle"})
  ]
});
place(cb, 1840, 100);
</script></body></html>
